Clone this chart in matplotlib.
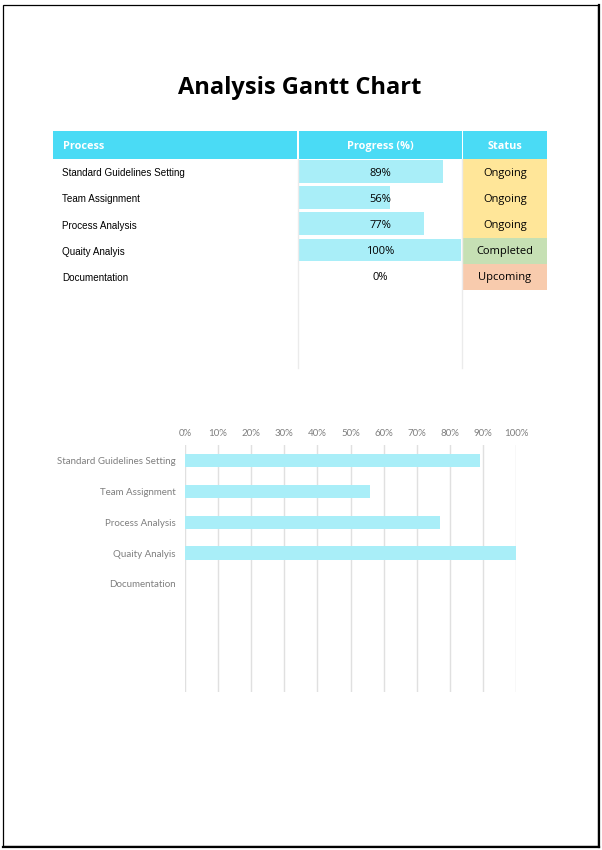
import matplotlib
matplotlib.use('Agg')
import matplotlib.pyplot as plt
from matplotlib.patches import Rectangle
from matplotlib.ticker import FuncFormatter

# data
processes = ['Standard Guidelines Setting', 'Team Assignment', 'Process Analysis',
             'Quaity Analyis', 'Documentation']
progress = [89, 56, 77, 100, 0]
status = ['Ongoing', 'Ongoing', 'Ongoing', 'Completed', 'Upcoming']
headers = ['Process', 'Progress (%)', 'Status']
x_ticks = [0, 10, 20, 30, 40, 50, 60, 70, 80, 90, 100]

status_col = {'Ongoing': '#FFE699', 'Completed': '#C6E0B4', 'Upcoming': '#F8CBAD'}
head_col = '#4ADBF5'
bar_col = '#A9EEF8'

W, H = 602, 850
fig = plt.figure(figsize=(W / 100, H / 100), dpi=100)

# overlay in pixel units for page + table
pg = fig.add_axes([0, 0, 1, 1])
pg.set_xlim(0, W)
pg.set_ylim(H, 0)
pg.axis('off')

# page border
pg.add_patch(Rectangle((2.5, 4.5), 595.5, 841.5, fill=False, ec='black', lw=0.9))
pg.plot([598.5, 598.5], [5, 847], color='black', lw=1.6)
pg.plot([3, 599], [846.5, 846.5], color='black', lw=1.6)

pg.text(300, 88, 'Analysis Gantt Chart', ha='center', va='center',
        fontsize=17, fontweight='bold', family='Open Sans', color='black')

# table layout
cols = [(53, 297), (298.5, 461.5), (463, 547)]
head_top, head_bot = 131, 159
row_h = 26.2

for (x0, x1), name in zip(cols, headers):
    pg.add_patch(Rectangle((x0, head_top), x1 - x0, head_bot - head_top, color=head_col, lw=0))
for i, (x0, x1) in enumerate(cols):
    if i == 0:
        pg.text(x0 + 10, (head_top + head_bot) / 2 + 1, headers[i], ha='left', va='center',
                fontsize=7.8, fontweight='bold', family='Open Sans', color='white')
    else:
        pg.text((x0 + x1) / 2, (head_top + head_bot) / 2 + 1, headers[i], ha='center', va='center',
                fontsize=7.8, fontweight='bold', family='Open Sans', color='white')

# column separators
for xs in [297.5, 462.2]:
    pg.plot([xs, xs], [head_bot, 368], color='#EBEBEB', lw=1)

px0, px1 = 299, 461
for i, (name, p, s) in enumerate(zip(processes, progress, status)):
    top = head_bot + i * row_h
    yc = top + row_h / 2 + 1
    pg.text(62, yc, name, ha='left', va='center', fontsize=7.1,
            family='Liberation Sans', color='black')
    if p > 0:
        pg.add_patch(Rectangle((px0, top + 1), (px1 - px0) * p / 100, row_h - 3.5,
                               color=bar_col, lw=0))
    pg.text((px0 + px1) / 2, yc, f'{p}%', ha='center', va='center', fontsize=8,
            family='Open Sans', color='black')
    pg.add_patch(Rectangle((463, top), 84, row_h, color=status_col[s], lw=0))
    pg.text(505, yc, s, ha='center', va='center', fontsize=8,
            family='Open Sans', color='black')

# gantt chart
ax = fig.add_axes([185 / W, 1 - 692 / H, (516 - 185) / W, (692 - 445) / H])
ypos = list(range(len(processes)))
ax.barh(ypos, [p / 100 for p in progress], height=0.43, color=bar_col, zorder=2)
ax.set_xlim(0, 1)
ax.set_ylim(7.5, -0.5)
ax.set_xticks([t / 100 for t in x_ticks])
ax.xaxis.set_major_formatter(FuncFormatter(lambda v, _: f'{round(v * 100)}%'))
ax.xaxis.tick_top()
ax.set_yticks(ypos)
ax.set_yticklabels(processes)
ax.tick_params(axis='both', length=0, labelsize=7, labelcolor='#7F7F7F')
ax.tick_params(axis='x', pad=5)
ax.tick_params(axis='y', pad=7)
for lab in ax.get_xticklabels() + ax.get_yticklabels():
    lab.set_family('Lato')
ax.grid(axis='x', color='#E0E0E0', lw=1, zorder=0)
for sp in ax.spines.values():
    sp.set_visible(False)

fig.savefig('out.png', dpi=100)
